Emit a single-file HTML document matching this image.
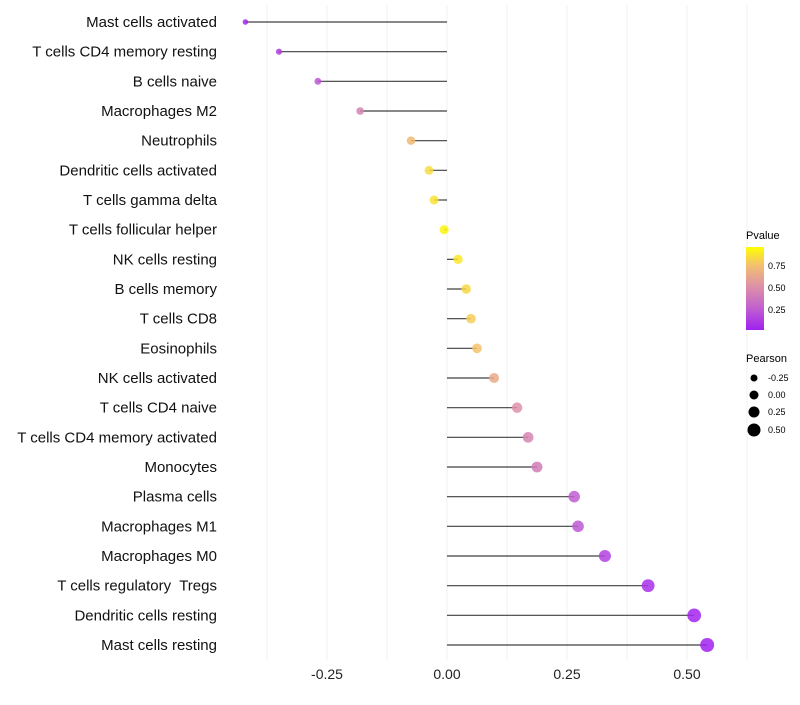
<!DOCTYPE html>
<html><head><meta charset="utf-8"><style>
body{margin:0;background:#fff;font-family:"Liberation Sans",sans-serif}
text{white-space:pre}
</style></head><body>
<svg id="c" width="800" height="700" xmlns="http://www.w3.org/2000/svg">
<defs><linearGradient id="pg" x1="0" y1="1" x2="0" y2="0">
<stop offset="0" stop-color="#a020f0"/><stop offset="0.26" stop-color="#c060d0"/><stop offset="0.52" stop-color="#dd90a8"/><stop offset="0.78" stop-color="#f3c070"/><stop offset="1" stop-color="#ffff00"/>
</linearGradient></defs>
<g id="grid"></g><g id="marks"></g><g id="labels"></g>
<g>
<text x="746" y="239" font-size="11">Pvalue</text>
<rect x="746" y="247" width="18" height="83" fill="url(#pg)"/>
<g font-size="9"><text x="768" y="269">0.75</text><text x="768" y="291">0.50</text><text x="768" y="313">0.25</text></g>
</g>
<g>
<text x="746" y="362" font-size="11">Pearson</text>
<circle cx="754" cy="378" r="3.5"/><circle cx="754" cy="395" r="4.5"/><circle cx="754" cy="412" r="5.5"/><circle cx="754" cy="430" r="6.5"/>
<g font-size="9"><text x="768" y="381">-0.25</text><text x="768" y="398">0.00</text><text x="768" y="415">0.25</text><text x="768" y="433">0.50</text></g>
</g>
</svg>
<script>
const categories=["Mast cells activated","T cells CD4 memory resting","B cells naive","Macrophages M2","Neutrophils","Dendritic cells activated","T cells gamma delta","T cells follicular helper","NK cells resting","B cells memory","T cells CD8","Eosinophils","NK cells activated","T cells CD4 naive","T cells CD4 memory activated","Monocytes","Plasma cells","Macrophages M1","Macrophages M0","T cells regulatory  Tregs","Dendritic cells resting","Mast cells resting"];
const pearson=[-0.42,-0.35,-0.269,-0.181,-0.075,-0.0375,-0.027,-0.006,0.023,0.04,0.05,0.0625,0.098,0.146,0.169,0.1875,0.265,0.273,0.329,0.419,0.515,0.542];
const pvalue=[0.02,0.1,0.22,0.45,0.75,0.87,0.9,0.97,0.92,0.86,0.83,0.79,0.67,0.52,0.46,0.41,0.25,0.23,0.14,0.06,0.02,0.01];
const tickValues=[-0.25,0,0.25,0.5];
const tickLabels=["-0.25","0.00","0.25","0.50"];
const NS="http://www.w3.org/2000/svg";
const x=v=>447+v*480;
const y=i=>22+i*(623/(categories.length-1));
const stops=[[0,[160,32,240]],[0.26,[192,96,208]],[0.52,[221,144,168]],[0.78,[243,192,112]],[1,[255,255,0]]];
function col(p){for(let k=1;k<stops.length;k++){if(p<=stops[k][0]){const a=stops[k-1],b=stops[k],t=(p-a[0])/(b[0]-a[0]);return"rgb("+a[1].map((c,j)=>Math.round(c+(b[1][j]-c)*t)).join(",")+")";}}return"rgb(255,255,0)";}
function mk(t,at,parent){const e=document.createElementNS(NS,t);for(const k in at)e.setAttribute(k,at[k]);parent.appendChild(e);return e;}
const G=document.getElementById("grid"),M=document.getElementById("marks"),L=document.getElementById("labels");
for(let v=-0.375;v<=0.63;v+=0.125){const g=mk("line",{x1:x(v),x2:x(v),y1:5,y2:660,stroke:"#f0f0f0","stroke-width":1},G);

}
tickValues.forEach((v,i)=>{const t=mk("text",{x:x(v),y:679,"text-anchor":"middle","font-size":14,fill:"#222"},L);t.textContent=tickLabels[i];

});
categories.forEach((c,i)=>{
const t=mk("text",{x:217,y:y(i)+5,"text-anchor":"end","font-size":15,fill:"#111"},L);t.textContent=c;


const ln=mk("line",{x1:x(0),x2:x(pearson[i]),y1:y(i),y2:y(i),stroke:"#000","stroke-opacity":0.75,"stroke-width":1.2},M);


const ci=mk("circle",{cx:x(pearson[i]),cy:y(i),r:Math.max(1.5,4.6+4.4*pearson[i]),fill:col(pvalue[i]),"fill-opacity":0.85},M);


});
</script>
</body></html>
